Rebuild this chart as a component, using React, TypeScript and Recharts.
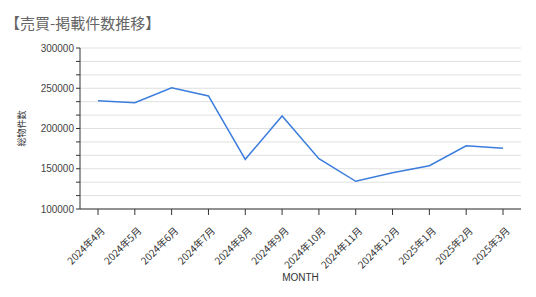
import React from 'react';
import { LineChart, Line, XAxis, YAxis, CartesianGrid, Label } from 'recharts';

const months = [
  '2024年4月', '2024年5月', '2024年6月', '2024年7月', '2024年8月', '2024年9月',
  '2024年10月', '2024年11月', '2024年12月', '2025年1月', '2025年2月', '2025年3月',
];
const totals = [
  234500, 232000, 250700, 240400, 161700, 215500,
  162500, 134400, 145000, 153800, 178600, 175400,
];
const yTicks = [
  100000, 116667, 133333, 150000, 166667, 183333, 200000,
  216667, 233333, 250000, 266667, 283333, 300000,
];

const data = months.map((m, i) => ({ month: m, total: totals[i] }));

const FONT = '"Liberation Sans", Arial, sans-serif';
const CJK = '"Noto Sans CJK JP", "Liberation Sans", sans-serif';

const MonthTick = (props: any) => {
  const { x, y, payload } = props;
  return (
    <g transform={`translate(${x + 5},${y + 12})`}>
      <text
        textAnchor="end"
        transform="rotate(-45)"
        fontSize={10}
        fill="#333"
        fontFamily={CJK}
        dy="0.35em"
      >
        {payload.value}
      </text>
    </g>
  );
};

const App: React.FC = () => {
  return (
    <div style={{ position: 'absolute', left: 0, top: 0, width: 536, height: 297, background: '#fff' }}>
      <div
        style={{
          position: 'absolute',
          left: 5,
          top: 12,
          fontSize: 15,
          color: '#666',
          fontFamily: CJK,
          lineHeight: '22px',
          whiteSpace: 'nowrap',
        }}
      >
        【売買-掲載件数推移】
      </div>
      <LineChart width={536} height={297} data={data} margin={{ top: 48, right: 15, bottom: 0, left: 0 }}>
        <CartesianGrid vertical={false} stroke="#e0e0e0" />
        <XAxis
          dataKey="month"
          height={88}
          tick={<MonthTick />}
          interval={0}
          tickSize={6}
          stroke="#333"
          padding={{ left: 18, right: 18 }}
        >
          <Label
            value="MONTH"
            position="insideBottom"
            offset={16}
            style={{ fontSize: 10, fill: '#333', fontFamily: FONT }}
          />
        </XAxis>
        <YAxis
          type="number"
          domain={[100000, 300000]}
          ticks={yTicks}
          interval={0}
          width={80}
          tickSize={4}
          stroke="#333"
          tick={{ fontSize: 10, fill: '#444', fontFamily: FONT }}
          tickFormatter={(v: number) => (v % 50000 === 0 ? String(v) : '')}
        >
          <Label
            value="総物件数"
            angle={-90}
            position="insideLeft"
            offset={22}
            style={{ textAnchor: 'middle', fontSize: 9, fill: '#333', fontFamily: CJK }}
          />
        </YAxis>
        <Line
          type="linear"
          dataKey="total"
          stroke="#3b7ddd"
          strokeWidth={1.5}
          dot={false}
          isAnimationActive={false}
        />
      </LineChart>
    </div>
  );
};

export default App;
